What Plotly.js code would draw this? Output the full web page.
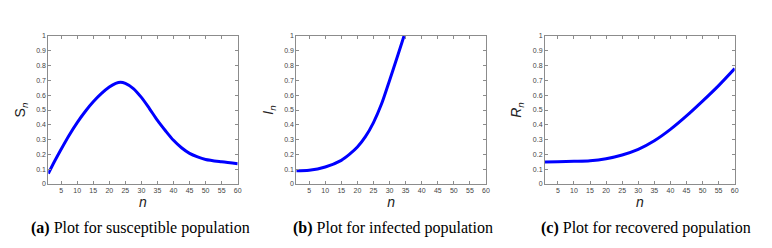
<!DOCTYPE html>
<html>
<head>
<meta charset="utf-8">
<script src="https://cdn.plot.ly/plotly-3.0.1.min.js"></script>
<style>html,body{margin:0;padding:0;background:#fff;}#plot{width:772px;height:248px;}</style>
</head>
<body>
<div id="plot"></div>
<script>
// Susceptible population S_n
const nS = [1, 3, 5, 7.5, 10, 12.5, 15, 17.5, 20, 22, 23.5, 25, 27.5, 30, 32.5, 35, 37.5, 40, 42.5, 45, 47.5, 50, 55, 60];
const S  = [0.07, 0.155, 0.235, 0.33, 0.415, 0.49, 0.555, 0.61, 0.655, 0.68, 0.688, 0.68, 0.645, 0.585, 0.51, 0.43, 0.36, 0.295, 0.245, 0.207, 0.183, 0.166, 0.15, 0.137];
// Infected population I_n
const nI = [1, 5, 10, 15, 17.5, 20, 22.5, 25, 27.5, 30, 32.5, 34.5];
const I  = [0.09, 0.093, 0.115, 0.16, 0.2, 0.25, 0.32, 0.415, 0.54, 0.70, 0.865, 1.0];
// Recovered population R_n
const nR = [1, 5, 10, 15, 20, 25, 30, 35, 40, 45, 50, 55, 60];
const R  = [0.148, 0.15, 0.153, 0.157, 0.171, 0.196, 0.234, 0.292, 0.369, 0.46, 0.56, 0.665, 0.78];

const xTicks = [5, 10, 15, 20, 25, 30, 35, 40, 45, 50, 55, 60];
const yTicks = [0, 0.1, 0.2, 0.3, 0.4, 0.5, 0.6, 0.7, 0.8, 0.9, 1];
const yTickText = ['0', '0.1', '0.2', '0.3', '0.4', '0.5', '0.6', '0.7', '0.8', '0.9', '1'];
const yTitles = ['S<sub><i>n</i></sub>', '<i>I</i><sub><i>n</i></sub>', '<i>R</i><sub><i>n</i></sub>'];
const captions = ['<b>(a)</b> Plot for susceptible population', '<b>(b)</b> Plot for infected population', '<b>(c)</b> Plot for recovered population'];

const W = 772, H = 248;
const xDomPx = [[48.3, 237.7], [296.3, 486], [545, 734.7]];
const yDom = [1 - 184 / H, 1 - 36 / H];
const capX = [140, 393, 645.5];

const line = {color: '#0000ff', width: 3, shape: 'spline', smoothing: 0.8};
const data = [
  {x: nS, y: S, xaxis: 'x', yaxis: 'y', mode: 'lines', line: line, hoverinfo: 'none'},
  {x: nI, y: I, xaxis: 'x2', yaxis: 'y2', mode: 'lines', line: line, hoverinfo: 'none'},
  {x: nR, y: R, xaxis: 'x3', yaxis: 'y3', mode: 'lines', line: line, hoverinfo: 'none'}
];

const axCommon = {
  showgrid: false, zeroline: false, showline: true, linecolor: '#8c8c8c', linewidth: 1,
  mirror: 'ticks', ticks: 'inside', ticklen: 3, tickcolor: '#8c8c8c', tickwidth: 1,
  tickfont: {family: 'Liberation Sans, Arial, sans-serif', size: 7, color: '#444'}
};

const layout = {
  width: W, height: H, margin: {l: 0, r: 0, t: 0, b: 0},
  paper_bgcolor: '#fff', plot_bgcolor: '#fff', showlegend: false,
  annotations: []
};

for (let i = 0; i < 3; i++) {
  const sfx = i === 0 ? '' : String(i + 1);
  layout['xaxis' + sfx] = Object.assign({}, axCommon, {
    domain: [xDomPx[i][0] / W, xDomPx[i][1] / W], range: [1, 60],
    tickvals: xTicks, ticktext: xTicks.map(String), anchor: 'y' + sfx,
    title: {text: '<i>n</i>', font: {family: 'Liberation Sans, Arial, sans-serif', size: 14, color: '#222'}, standoff: 1}
  });
  layout['yaxis' + sfx] = Object.assign({}, axCommon, {
    domain: yDom, range: [0, 1], tickvals: yTicks, ticktext: yTickText, anchor: 'x' + sfx,
    title: {text: yTitles[i], font: {family: 'Liberation Sans, Arial, sans-serif', size: 14, color: '#222'}, standoff: 7}
  });
  layout.annotations.push({
    xref: 'paper', yref: 'paper', x: capX[i] / W, y: 1 - 228 / H,
    xanchor: 'center', yanchor: 'middle', showarrow: false, text: captions[i],
    font: {family: 'Liberation Serif, Times New Roman, serif', size: 16, color: '#000'}
  });
}

Plotly.newPlot('plot', data, layout, {staticPlot: true, displayModeBar: false});
</script>
</body>
</html>
